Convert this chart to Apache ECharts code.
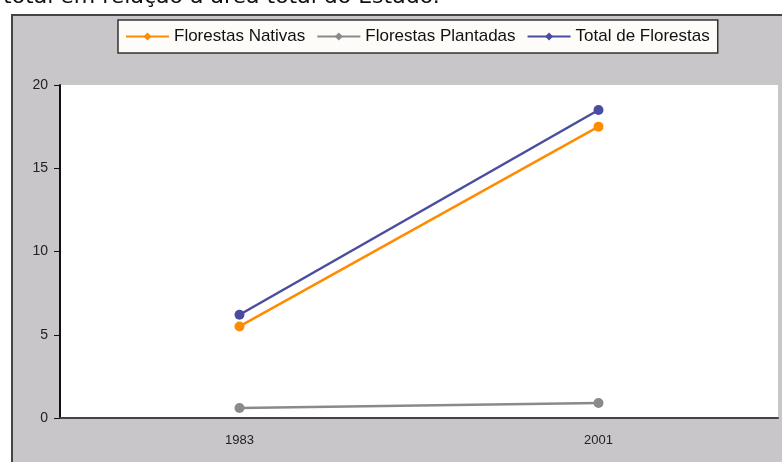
<!DOCTYPE html>
<html>
<head>
<meta charset="utf-8">
<script src="https://cdn.jsdelivr.net/npm/echarts@6/dist/echarts.min.js"></script>
<style>
html,body{margin:0;padding:0;background:#fff;}
#chart{width:782px;height:462px;}
</style>
</head>
<body>
<div id="chart"></div>
<script>
var categories = ["1983", "2001"];
var florestasNativas = [5.5, 17.5];
var florestasPlantadas = [0.6, 0.9];
var totalFlorestas = [6.2, 18.5];
var yTicks = [0, 5, 10, 15, 20];
var seriesNames = ["Florestas Nativas", "Florestas Plantadas", "Total de Florestas"];
var headerText = "total em relação à área total do Estado.";

var chart = echarts.init(document.getElementById('chart'), null, {renderer: 'canvas'});
var fontFam = '"Liberation Sans", Arial, sans-serif';

function mkSeries(name, data, color) {
  return {
    name: name, type: 'line',
    data: data.map(function (v) { return {value: v, symbol: 'circle', symbolSize: 10}; }),
    symbol: 'diamond', symbolSize: 7,
    lineStyle: {color: color, width: 2.5},
    itemStyle: {color: color},
    emphasis: {disabled: true},
    animation: false
  };
}

chart.setOption({
  animation: false,
  backgroundColor: '#ffffff',
  graphic: [
    {type: 'rect', z: -10, shape: {x: 12, y: 15, width: 800, height: 500},
     style: {fill: '#c8c6c9', stroke: '#444', lineWidth: 2}},
    {type: 'text', z: -5, style: {text: headerText, x: 3, y: 8, font: '22px "DejaVu Sans", sans-serif',
      fill: '#111', verticalAlign: 'bottom'}}
  ],
  legend: {
    left: 118, top: 20,
    padding: [8, 8, 8, 7],
    backgroundColor: '#fdfcf8', borderColor: '#333', borderWidth: 1.5,
    itemWidth: 43, itemHeight: 10, itemGap: 11,
    textStyle: {fontSize: 17, fontFamily: fontFam, color: '#111'},
    data: seriesNames
  },
  grid: {
    left: 60, top: 85, right: 4, bottom: 44,
    show: true, backgroundColor: '#ffffff', borderWidth: 0
  },
  xAxis: {
    type: 'category', data: categories, boundaryGap: true,
    axisLine: {lineStyle: {color: '#444', width: 2}},
    axisTick: {show: false},
    axisLabel: {fontSize: 13, fontFamily: fontFam, color: '#222', margin: 16},
    splitLine: {show: false}
  },
  yAxis: {
    type: 'value', min: yTicks[0], max: yTicks[yTicks.length - 1], interval: 5,
    axisLine: {show: true, lineStyle: {color: '#111', width: 2}},
    axisTick: {show: true, length: 6, lineStyle: {color: '#111'}},
    axisLabel: {fontSize: 14, fontFamily: fontFam, color: '#222', margin: 12},
    splitLine: {show: false}
  },
  series: [
    mkSeries(seriesNames[0], florestasNativas, '#ff8c00'),
    mkSeries(seriesNames[1], florestasPlantadas, '#8a8a8a'),
    mkSeries(seriesNames[2], totalFlorestas, '#4a4c9e')
  ]
});
</script>
</body>
</html>
